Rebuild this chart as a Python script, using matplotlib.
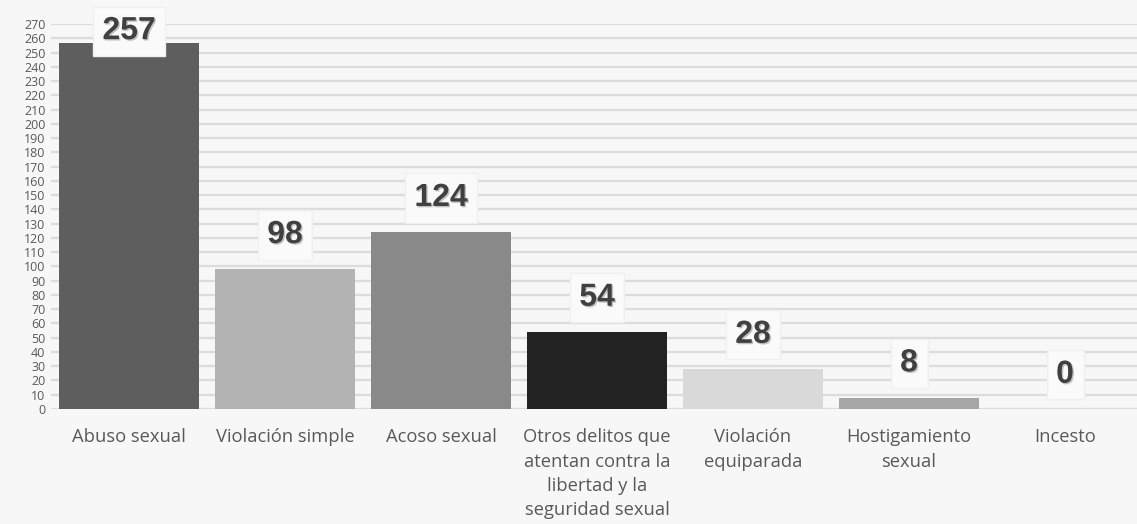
import numpy as np
import matplotlib
matplotlib.use('Agg')
import matplotlib.pyplot as plt
import matplotlib.patheffects as pe

categories = ['Abuso sexual', 'Violación simple', 'Acoso sexual',
              'Otros delitos que\natentan contra la\nlibertad y la\nseguridad sexual',
              'Violación\nequiparada', 'Hostigamiento\nsexual', 'Incesto']
values = [257, 98, 124, 54, 28, 8, 0]
bar_colors = ['#5e5e5e', '#b3b3b3', '#898989', '#222222', '#d9d9d9', '#a6a6a6', '#c0c0c0']
yticks = list(range(0, 271, 10))

fig = plt.figure(figsize=(11.37, 5.24), dpi=100)
fig.patch.set_facecolor('#f7f7f7')
ax = fig.add_axes([0.0449, 0.2195, 0.9604, 0.7347])
ax.set_facecolor('none')

x = np.arange(len(categories))
ax.bar(x, values, width=0.9, color=bar_colors, zorder=3)

ax.set_xlim(-0.5, len(categories) - 0.5)
ax.set_ylim(0, 270)
ax.set_yticks(yticks)
ax.yaxis.grid(True, color='#dcdcdc', linewidth=1.7, zorder=0)
ax.set_axisbelow(True)
for s in ax.spines.values():
    s.set_visible(False)
ax.tick_params(axis='both', length=0)
ax.tick_params(axis='y', labelsize=9, labelcolor='#595959', pad=4)
ax.set_xticks(x)
ax.set_xticklabels(categories, fontsize=13.2, color='#595959', family='Open Sans',
                   linespacing=1.45, va='top')
ax.tick_params(axis='x', pad=14)
for lab in ax.get_yticklabels():
    lab.set_family('Open Sans')

# data labels above bars (top one pushed down by the frame)
for xi, v in zip(x, values):
    ypos = min(v + 24, 265)
    ax.text(xi, ypos, str(v), ha='center', va='center', fontsize=23,
            fontweight='bold', family='Liberation Sans', color='#404040', zorder=5,
            bbox=dict(boxstyle='square,pad=0.3', facecolor='#fafafa',
                      edgecolor='#f0f0f0', linewidth=1),
            path_effects=[pe.SimplePatchShadow(offset=(1, -1), alpha=0.25), pe.Normal()])

fig.savefig('out.png', dpi=100, facecolor=fig.get_facecolor())
